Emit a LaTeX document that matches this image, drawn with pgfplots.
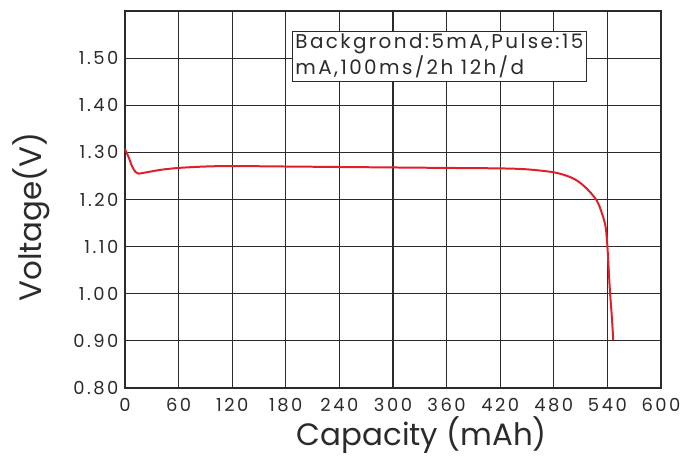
\documentclass[border=0pt]{standalone}
\usepackage{fontspec}
\setmainfont{Poppins}
\newfontfamily\tickfont{Poppins}[LetterSpace=14]
\newfontfamily\boxfont{Poppins}[LetterSpace=12]
\usepackage{pgfplots}
\pgfplotsset{compat=1.18}
\definecolor{curvered}{RGB}{222,32,42}
\definecolor{gridgray}{RGB}{45,42,42}
\begin{document}
\begin{tikzpicture}[x=1bp,y=1bp]
\useasboundingbox (-125bp,-68bp) rectangle (558bp,388bp);
\begin{axis}[
    scale only axis,
    width=536bp, height=377bp,
    xmin=0, xmax=600, ymin=0.8, ymax=1.6,
    xtick={0,60,120,180,240,300,360,420,480,540,600},
    ytick={0.8,0.9,1.0,1.1,1.2,1.3,1.4,1.5},
    extra y ticks={1.6}, extra y tick style={yticklabel={}},
    grid=both,
    major grid style={gridgray, line width=1.1pt},
    axis line style={gridgray, line width=2.4pt},
    major tick length=0pt,
    tick style={draw=none},
    /pgf/number format/assume math mode=true,
    yticklabel={\pgfmathprintnumber[fixed, fixed zerofill, precision=2]{\tick}},
    ticklabel style={font=\tickfont\fontsize{18}{20}\selectfont, text=gridgray},
    xticklabel style={yshift=-7bp},
    yticklabel style={xshift=-3bp},
    xlabel={Capacity (mAh)},
    ylabel={Voltage(V)},
    label style={font=\fontsize{31}{36}\selectfont, text=gridgray},
    xlabel style={at={(axis description cs:0.554,0)}, anchor=base, yshift=-57bp},
    ylabel style={at={(axis description cs:0,0.454)}, anchor=base, yshift=83bp},
    clip=false,
]
\addplot[curvered, line width=2pt, smooth, tension=0.5] coordinates {
    (0,1.307) (4,1.290) (8,1.270) (12,1.258) (15,1.255) (25,1.258)
    (40,1.263) (60,1.267) (90,1.270) (120,1.271) (180,1.270)
    (240,1.269) (300,1.268) (360,1.267) (420,1.266) (450,1.264)
    (479,1.258) (495,1.250) (506,1.240) (517,1.223) (528,1.198)
    (534,1.170) (538,1.142) (540,1.100) (541.5,1.050) (543,1.001)
    (545,0.950) (546.6,0.901)
};
\node[draw=gridgray, line width=0.8pt, fill=white, anchor=north west,
      align=left, inner sep=3bp, font=\boxfont\fontsize{20}{26}\selectfont, text=gridgray]
      at (axis cs:187,1.558) {Backgrond:5mA,Pulse:15\\mA,100ms/2h 12h/d};
\end{axis}
\end{tikzpicture}
\end{document}
